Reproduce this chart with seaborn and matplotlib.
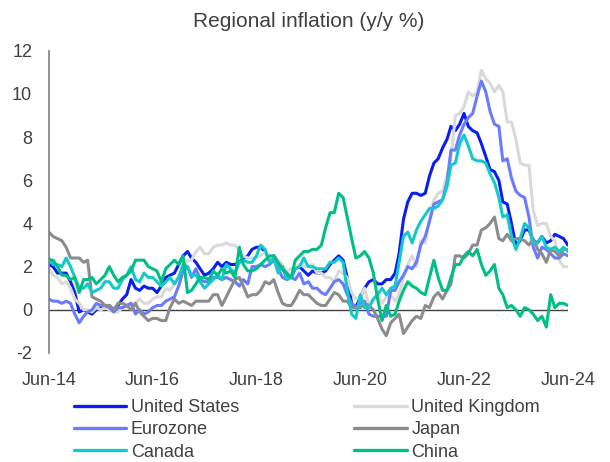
import matplotlib
matplotlib.use("Agg")
import matplotlib.pyplot as plt
import matplotlib.dates as mdates
import seaborn as sns
import pandas as pd
import numpy as np

# monthly, Jun-2014 .. Jun-2024
dates = pd.date_range("2014-06-01", "2024-06-01", freq="MS")

united_states = [
    2.1, 2.0, 1.7, 1.7, 1.7, 1.3, 0.8,
    -0.1, 0.0, -0.1, -0.2, 0.0, 0.1, 0.2, 0.2, 0.0, 0.2, 0.5, 0.7,
    1.4, 1.0, 0.9, 1.1, 1.0, 1.0, 0.8, 1.1, 1.5, 1.6, 1.7, 2.1,
    2.5, 2.7, 2.4, 2.2, 1.9, 1.6, 1.7, 1.9, 2.2, 2.0, 2.2, 2.1,
    2.1, 2.2, 2.4, 2.5, 2.8, 2.9, 2.9, 2.7, 2.3, 2.5, 2.2, 1.9,
    1.6, 1.5, 1.9, 2.0, 1.8, 1.6, 1.8, 1.7, 1.7, 1.8, 2.1, 2.3,
    2.5, 2.3, 1.5, 0.3, 0.1, 0.6, 1.0, 1.3, 1.4, 1.2, 1.2, 1.4,
    1.4, 1.7, 2.6, 4.2, 5.0, 5.4, 5.4, 5.3, 5.4, 6.2, 6.8, 7.0,
    7.5, 7.9, 8.5, 8.3, 8.6, 9.1, 8.5, 8.3, 8.2, 7.7, 7.1, 6.5,
    6.4, 6.0, 5.0, 4.9, 4.0, 3.0, 3.2, 3.7, 3.7, 3.2, 3.1, 3.4,
    3.1, 3.2, 3.5, 3.4, 3.3, 3.0,
]
united_kingdom = [
    1.9, 1.6, 1.5, 1.2, 1.3, 1.0, 0.5,
    0.3, 0.0, 0.0, -0.1, 0.1, 0.0, 0.1, 0.0, -0.1, -0.1, 0.1, 0.2,
    0.3, 0.3, 0.5, 0.3, 0.3, 0.5, 0.6, 0.6, 1.0, 0.9, 1.2, 1.6,
    1.8, 2.3, 2.3, 2.7, 2.9, 2.6, 2.6, 2.9, 3.0, 3.0, 3.1, 3.0,
    3.0, 2.7, 2.5, 2.4, 2.4, 2.4, 2.5, 2.7, 2.4, 2.4, 2.3, 2.1,
    1.8, 1.9, 1.9, 2.1, 2.0, 2.0, 2.1, 1.7, 1.7, 1.5, 1.5, 1.3,
    1.8, 1.7, 1.5, 0.8, 0.5, 0.6, 1.0, 0.2, 0.5, 0.7, 0.3, 0.6,
    0.7, 0.4, 0.7, 1.5, 2.1, 2.5, 2.0, 3.2, 3.1, 4.2, 5.1, 5.4,
    5.5, 6.2, 7.0, 9.0, 9.1, 9.4, 10.1, 9.9, 10.1, 11.1, 10.7, 10.5,
    10.1, 10.4, 10.1, 8.7, 8.7, 7.9, 6.8, 6.7, 6.7, 4.6, 3.9, 4.0,
    4.0, 3.4, 3.2, 2.3, 2.0, 2.0,
]
eurozone = [
    0.5, 0.4, 0.4, 0.3, 0.4, 0.3, -0.2,
    -0.6, -0.3, -0.1, 0.0, 0.3, 0.2, 0.2, 0.1, -0.1, 0.1, 0.1, 0.2,
    0.3, -0.2, 0.0, -0.2, -0.1, 0.1, 0.2, 0.2, 0.4, 0.5, 0.6, 1.1,
    1.8, 2.0, 1.5, 1.9, 1.4, 1.3, 1.3, 1.5, 1.5, 1.4, 1.5, 1.4,
    1.3, 1.1, 1.4, 1.2, 2.0, 2.0, 2.1, 2.0, 2.1, 2.3, 1.9, 1.5,
    1.4, 1.5, 1.4, 1.7, 1.2, 1.3, 1.0, 1.0, 0.8, 0.7, 1.0, 1.3,
    1.4, 1.2, 0.7, 0.3, 0.1, 0.3, 0.4, -0.2, -0.3, -0.3, -0.3, -0.3,
    0.9, 0.9, 1.3, 1.6, 2.0, 1.9, 2.2, 3.0, 3.4, 4.1, 4.9, 5.0,
    5.1, 5.9, 7.4, 7.4, 8.1, 8.6, 8.9, 9.1, 9.9, 10.6, 10.1, 9.2,
    8.6, 8.5, 6.9, 7.0, 6.1, 5.5, 5.3, 5.2, 4.3, 2.9, 2.4, 2.9,
    2.8, 2.6, 2.4, 2.4, 2.6, 2.5,
]
japan = [
    3.6, 3.4, 3.3, 3.2, 2.9, 2.4, 2.4,
    2.4, 2.2, 2.3, 0.6, 0.5, 0.4, 0.2, 0.2, 0.0, 0.3, 0.3, 0.2,
    0.0, 0.3, -0.1, -0.3, -0.5, -0.4, -0.4, -0.5, -0.5, 0.1, 0.5, 0.3,
    0.4, 0.3, 0.2, 0.4, 0.4, 0.4, 0.4, 0.7, 0.7, 0.2, 0.6, 1.0,
    1.4, 1.5, 1.1, 0.6, 0.7, 0.7, 0.9, 1.3, 1.2, 1.4, 0.8, 0.3,
    0.2, 0.2, 0.5, 0.9, 0.7, 0.7, 0.5, 0.3, 0.2, 0.2, 0.5, 0.8,
    0.7, 0.4, 0.4, 0.1, 0.1, 0.1, 0.3, 0.2, 0.0, -0.4, -0.9, -1.2,
    -0.6, -0.4, -0.2, -1.1, -0.8, -0.5, -0.3, -0.4, 0.2, 0.1, 0.6, 0.8,
    0.5, 0.9, 1.2, 2.5, 2.5, 2.4, 2.6, 3.0, 3.0, 3.7, 3.8, 4.0,
    4.3, 3.3, 3.2, 3.5, 3.2, 3.3, 3.3, 3.2, 3.0, 3.3, 2.8, 2.6,
    2.2, 2.8, 2.7, 2.5, 2.8, 2.8,
]
canada = [
    2.4, 2.1, 2.1, 2.0, 2.4, 2.0, 1.5,
    1.0, 1.0, 1.2, 0.8, 0.9, 1.0, 1.3, 1.3, 1.0, 1.0, 1.4, 1.6,
    2.0, 1.4, 1.3, 1.7, 1.5, 1.5, 1.3, 1.1, 1.3, 1.5, 1.2, 1.5,
    2.1, 2.0, 1.6, 1.6, 1.3, 1.0, 1.2, 1.4, 1.6, 1.4, 2.1, 1.9,
    1.7, 2.2, 2.3, 2.2, 2.2, 2.5, 3.0, 2.8, 2.2, 2.4, 1.7, 2.0,
    1.4, 1.5, 1.9, 2.0, 2.4, 2.0, 2.0, 1.9, 1.9, 1.9, 2.2, 2.2,
    2.4, 2.2, 0.9, -0.2, -0.4, 0.7, 0.1, 0.1, 0.5, 0.7, 1.0, 0.7,
    1.0, 1.1, 2.2, 3.4, 3.6, 3.1, 3.7, 4.1, 4.4, 4.7, 4.7, 4.8,
    5.1, 5.7, 6.7, 6.8, 7.7, 8.1, 7.6, 7.0, 6.9, 6.9, 6.8, 6.3,
    5.9, 5.2, 4.3, 4.4, 3.4, 2.8, 3.3, 4.0, 3.8, 3.1, 3.1, 3.4,
    2.9, 2.8, 2.9, 2.7, 2.9, 2.7,
]
china = [
    2.3, 2.3, 2.0, 1.6, 1.6, 1.4, 1.5,
    0.8, 1.4, 1.4, 1.5, 1.2, 1.4, 1.6, 2.0, 1.6, 1.3, 1.5, 1.6,
    1.8, 2.3, 2.3, 2.3, 2.0, 1.9, 1.8, 1.3, 1.9, 2.1, 2.3, 2.1,
    2.5, 0.8, 0.9, 1.2, 1.5, 1.5, 1.4, 1.8, 1.6, 1.9, 1.7, 1.8,
    1.5, 2.9, 2.1, 1.8, 1.8, 1.9, 2.1, 2.3, 2.5, 2.5, 2.2, 1.9,
    1.7, 1.5, 2.3, 2.5, 2.7, 2.7, 2.8, 2.8, 3.0, 3.8, 4.5, 4.5,
    5.4, 5.2, 4.3, 3.3, 2.4, 2.5, 2.7, 2.4, 1.7, 0.5, -0.5, 0.2,
    -0.3, -0.2, 0.4, 0.9, 1.3, 1.1, 1.0, 0.8, 0.7, 1.5, 2.3, 1.5,
    0.9, 0.9, 1.5, 2.1, 2.1, 2.5, 2.7, 2.5, 2.8, 2.1, 1.6, 1.8,
    2.1, 1.0, 0.7, 0.1, 0.2, 0.0, -0.3, 0.1, 0.0, -0.2, -0.5, -0.3,
    -0.8, 0.7, 0.1, 0.3, 0.3, 0.2,
]

series = {
    "United States": united_states,
    "United Kingdom": united_kingdom,
    "Eurozone": eurozone,
    "Japan": japan,
    "Canada": canada,
    "China": china,
}
colors = {
    "United States": "#0A1EF2",
    "United Kingdom": "#D9D9D9",
    "Eurozone": "#6B7BFF",
    "Japan": "#8C8C8C",
    "Canada": "#12CACC",
    "China": "#00BF86",
}

frames = []
for name, vals in series.items():
    frames.append(pd.DataFrame({"date": dates, "value": vals, "country": name}))
df = pd.concat(frames, ignore_index=True)

sns.set_style("white")
plt.rcParams["font.family"] = ["Liberation Sans", "DejaVu Sans"]
plt.rcParams["axes.unicode_minus"] = False

fig = plt.figure(figsize=(6.1, 4.62), dpi=100)
ax = fig.add_axes([0.080, 0.236, 0.851, 0.654])

sns.lineplot(data=df, x="date", y="value", hue="country",
             hue_order=list(series.keys()), palette=colors,
             linewidth=2.2, ax=ax, legend=False)

ax.axhline(0, color="#404040", linewidth=1.0, zorder=0)

ax.set_xlim(dates[0], dates[-1])
ax.set_ylim(-2, 12)
ax.set_yticks(range(-2, 13, 2))
ax.xaxis.set_major_locator(mdates.MonthLocator(bymonth=6, interval=24))
ax.xaxis.set_major_formatter(mdates.DateFormatter("%b-%y"))
ax.set_xlabel("")
ax.set_ylabel("")

for s in ["top", "right", "bottom"]:
    ax.spines[s].set_visible(False)
ax.spines["left"].set_color("#7F7F7F")
ax.spines["left"].set_linewidth(1.2)
ax.tick_params(axis="both", length=0, labelsize=13, colors="#404040")
ax.tick_params(axis="y", pad=12)
ax.tick_params(axis="x", pad=14)

ax.set_title("Regional inflation (y/y %)", fontsize=15, color="#404040", pad=17)

handles = {n: plt.Line2D([], [], color=c, linewidth=2.4) for n, c in colors.items()}
order = ["United States", "Eurozone", "Canada", "United Kingdom", "Japan", "China"]
fig.legend([handles[n] for n in order], order, loc="upper left",
           bbox_to_anchor=(0.121, 0.136), bbox_transform=fig.transFigure,
           ncol=2, frameon=False, fontsize=13, handlelength=2.9,
           handletextpad=0.25, labelspacing=0.29, columnspacing=6.4,
           borderaxespad=0, borderpad=0, labelcolor="#404040")

fig.savefig("out.png", dpi=100)
